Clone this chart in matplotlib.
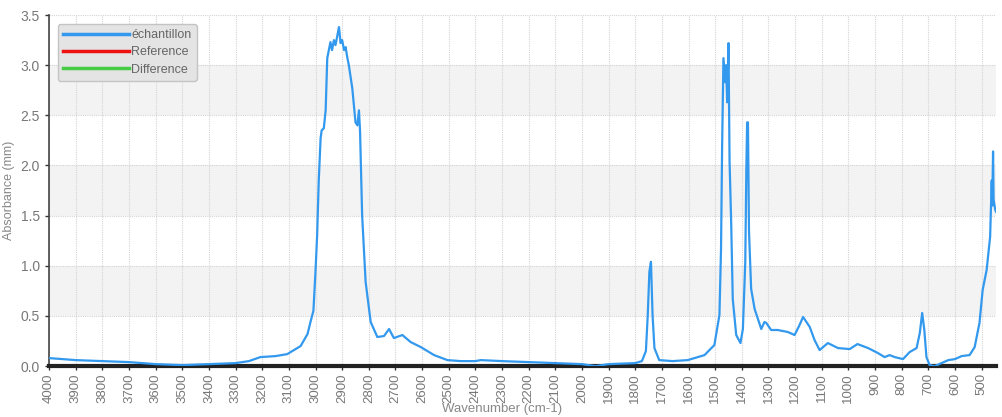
import matplotlib
matplotlib.use("Agg")
import matplotlib.pyplot as plt
import numpy as np

plt.rcParams["font.family"] = ["Liberation Sans Narrow", "Liberation Sans", "DejaVu Sans"]

# spectrum (wavenumber cm-1, absorbance)
wavenumber = [
    4000, 3900, 3800, 3700, 3650, 3600, 3500, 3400, 3300, 3250,
    3207, 3150, 3106, 3056, 3030, 3019, 3008, 3000, 2994, 2988,
    2981, 2977, 2969, 2962, 2956, 2944, 2938, 2931, 2925, 2918,
    2912, 2906, 2900, 2893, 2887, 2881, 2875, 2862, 2850, 2843,
    2837, 2833, 2825, 2812, 2793, 2768, 2743, 2724, 2706, 2674,
    2643, 2605, 2555, 2505, 2455, 2400, 2380, 2300, 2200, 2100,
    2000, 1950, 1900, 1800, 1775, 1760, 1753, 1747, 1741, 1735,
    1728, 1710, 1660, 1603, 1540, 1503, 1484, 1478, 1474, 1469,
    1462, 1459, 1455, 1450, 1446, 1440, 1434, 1421, 1405, 1396,
    1387, 1383, 1380, 1377, 1373, 1365, 1352, 1327, 1315, 1308,
    1290, 1265, 1227, 1202, 1185, 1170, 1145, 1127, 1108, 1077,
    1039, 995, 966, 926, 889, 864, 845, 826, 795, 770,
    744, 732, 723, 715, 707, 695, 676, 650, 625, 600,
    575, 545, 526, 508, 496, 481, 468, 462, 460, 457,
    455, 449, 446,
]
absorbance = [
    0.08, 0.06, 0.05, 0.04, 0.03, 0.02, 0.01, 0.02, 0.03, 0.05,
    0.09, 0.10, 0.12, 0.20, 0.32, 0.44, 0.55, 0.95, 1.30, 1.84,
    2.27, 2.35, 2.37, 2.55, 3.07, 3.23, 3.15, 3.25, 3.20, 3.30,
    3.38, 3.22, 3.25, 3.15, 3.18, 3.08, 3.00, 2.77, 2.43, 2.40,
    2.55, 2.35, 1.50, 0.84, 0.44, 0.29, 0.30, 0.37, 0.28, 0.31,
    0.24, 0.19, 0.11, 0.06, 0.05, 0.05, 0.06, 0.05, 0.04, 0.03,
    0.02, 0.00, 0.02, 0.03, 0.05, 0.15, 0.51, 0.94, 1.04, 0.51,
    0.18, 0.06, 0.05, 0.06, 0.11, 0.21, 0.51, 1.17, 2.17, 3.07,
    2.83, 3.00, 2.63, 3.22, 2.04, 1.44, 0.67, 0.31, 0.23, 0.37,
    1.04, 1.97, 2.43, 2.43, 1.34, 0.77, 0.57, 0.37, 0.44, 0.43,
    0.36, 0.36, 0.34, 0.31, 0.40, 0.49, 0.39, 0.26, 0.16, 0.23,
    0.18, 0.17, 0.22, 0.18, 0.13, 0.09, 0.11, 0.09, 0.07, 0.14,
    0.18, 0.33, 0.53, 0.36, 0.09, 0.01, 0.00, 0.03, 0.06, 0.07,
    0.10, 0.11, 0.19, 0.43, 0.76, 0.96, 1.29, 1.85, 1.60, 2.14,
    1.66, 1.56, 1.54,
]

series_names = ["échantillon", "Reference", "Difference"]
series_colors = ["#3399ee", "#ee1111", "#44cc44"]

x_ticks = list(range(4000, 499, -100))
y_ticks = [0.0, 0.5, 1.0, 1.5, 2.0, 2.5, 3.0, 3.5]

fig = plt.figure(figsize=(10.02, 4.17), dpi=100)
ax = fig.add_axes([0.049, 0.122, 0.945, 0.842])

# alternating light bands
for lo in [0.5, 1.5, 2.5]:
    ax.axhspan(lo, lo + 0.5, color="#f3f3f3", zorder=0, lw=0)

ax.plot(wavenumber, absorbance, color=series_colors[0], lw=1.6,
        label=series_names[0], zorder=3)
ax.plot([], [], color=series_colors[1], lw=1.6, label=series_names[1])
ax.plot([], [], color=series_colors[2], lw=1.6, label=series_names[2])

ax.set_xlim(4000, 446)
ax.set_ylim(0, 3.5)
ax.set_xticks(x_ticks)
ax.set_xticklabels([str(t) for t in x_ticks], rotation=90)
ax.set_yticks(y_ticks)
ax.set_yticklabels([f"{t:.1f}" for t in y_ticks])

ax.grid(True, color="#d4d4d4", linestyle=(0, (1, 1)), lw=0.8, zorder=1)
ax.set_axisbelow(True)

for s in ["top", "right"]:
    ax.spines[s].set_visible(False)
ax.spines["left"].set_color("#444444")
ax.spines["left"].set_linewidth(1.2)
ax.spines["bottom"].set_color("#222222")
ax.spines["bottom"].set_linewidth(3)

ax.tick_params(axis="both", colors="#333333", labelcolor="#777777",
               labelsize=10, length=3, width=1)
ax.tick_params(axis="x", labelsize=9.5, pad=2)

ax.set_ylabel("Absorbance (mm)", color="#888888", fontsize=9, labelpad=4)
ax.set_xlabel("Wavenumber (cm-1)", color="#888888", fontsize=9.5, va="center")
ax.xaxis.set_label_coords(0.478, -0.122)

leg = ax.legend(loc="upper left", bbox_to_anchor=(0.005, 0.985),
                frameon=True, fancybox=True, fontsize=9, handlelength=5.3,
                handletextpad=0.2, borderpad=0.4, labelspacing=0.42,
                borderaxespad=0.3)
leg.get_frame().set_facecolor("#e4e4e4")
leg.get_frame().set_edgecolor("#c4c4c4")
leg.get_frame().set_alpha(1)
for t in leg.get_texts():
    t.set_color("#666666")
for h in leg.legend_handles:
    h.set_linewidth(2.5)

fig.savefig("out.png", dpi=100)
